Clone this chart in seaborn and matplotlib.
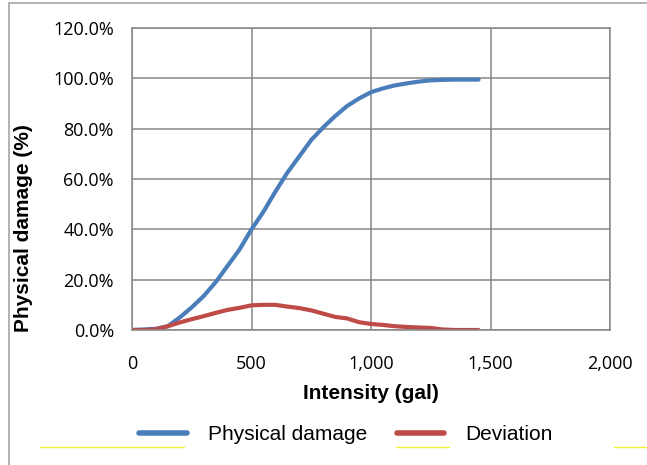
import matplotlib
matplotlib.use("Agg")
import matplotlib.pyplot as plt
from matplotlib.lines import Line2D
from matplotlib.ticker import FuncFormatter
import seaborn as sns
import pandas as pd

# ---- data ----
intensity = [0, 50, 100, 150, 200, 250, 300, 350, 400, 450, 500, 550, 600, 650, 700,
             750, 800, 850, 900, 950, 1000, 1050, 1100, 1150, 1200, 1250, 1300, 1350, 1400, 1450]
physical_damage = [0, 0.2, 0.5, 1.5, 5, 9, 13.5, 19, 25.5, 32, 40, 47, 55, 62.5, 69,
                   75.5, 80.5, 85, 89, 92, 94.5, 96, 97.2, 98, 98.7, 99.2, 99.4, 99.5, 99.5, 99.5]
deviation = [0, 0, 0.3, 1.5, 3, 4.3, 5.5, 6.8, 8, 8.8, 9.8, 10, 10, 9.3, 8.7,
             7.8, 6.5, 5.2, 4.6, 3.1, 2.4, 2.0, 1.5, 1.2, 1.0, 0.8, 0.2, 0, 0, 0]
series_names = ["Physical damage", "Deviation"]
colors = ["#4A7EBB", "#BE4B48"]
x_ticks = [0, 500, 1000, 1500, 2000]
y_ticks = [0, 20, 40, 60, 80, 100, 120]

df = pd.DataFrame({
    "Intensity": intensity * 2,
    "Value": physical_damage + deviation,
    "Series": [series_names[0]] * len(intensity) + [series_names[1]] * len(intensity),
})

sns.set_theme(style="white")
plt.rcParams["font.family"] = ["Liberation Sans", "DejaVu Sans"]
plt.rcParams["text.color"] = "black"
plt.rcParams["axes.labelcolor"] = "black"

W, H = 647, 465
fig = plt.figure(figsize=(W / 100, H / 100), dpi=100)
ax = fig.add_axes([132 / W, 1 - 330 / H, (610 - 132) / W, (330 - 28) / H])

sns.lineplot(data=df, x="Intensity", y="Value", hue="Series", hue_order=series_names,
             palette=colors, linewidth=3.0, ax=ax, legend=False, sort=False)

ax.set_xlim(0, 2000)
ax.set_ylim(0, 120)
ax.set_xticks(x_ticks)
ax.set_yticks(y_ticks)
ax.xaxis.set_major_formatter(FuncFormatter(lambda v, p: f"{int(v):,}"))
ax.yaxis.set_major_formatter(FuncFormatter(lambda v, p: f"{v:.1f}%"))
grid_c = "#868686"
ax.grid(True, color=grid_c, linewidth=1.1)
ax.set_axisbelow(True)
for s in ax.spines.values():
    s.set_color(grid_c)
    s.set_linewidth(1.1)
ax.tick_params(axis="both", length=0, labelsize=13, colors="black")
ax.tick_params(axis="y", pad=13)
ax.tick_params(axis="x", pad=18)
for lab in ax.get_xticklabels() + ax.get_yticklabels():
    lab.set_fontfamily(["Open Sans", "DejaVu Sans"])

ax.set_xlabel("Intensity (gal)", fontsize=15, fontweight="bold", labelpad=8, color="black")
ax.set_ylabel("Physical damage (%)", fontsize=15, fontweight="bold", labelpad=14, color="black")
ax.yaxis.set_label_coords(-(132 - 33) / (610 - 132), (330 - 228) / (330 - 28))

handles = [Line2D([], [], color=c, linewidth=4.0) for c in colors]
fig.legend(handles, series_names, loc="center", bbox_to_anchor=(346 / W, 1 - 435 / H),
           ncol=2, frameon=False, fontsize=15, handlelength=2.3, handletextpad=1.0,
           columnspacing=1.4, labelcolor="black")

# outer chart frame (partially visible) and faint artifacts
fig.add_artist(Line2D([8.5 / W, 8.5 / W], [0, 1 - 3 / H], color="#A6A6A6", linewidth=1.2))
fig.add_artist(Line2D([8.5 / W, 1], [1 - 3 / H, 1 - 3 / H], color="#A6A6A6", linewidth=1.2))
for x0, x1 in [(40, 184), (396, 449), (614, 647)]:
    fig.add_artist(Line2D([x0 / W, x1 / W], [1 - 447 / H, 1 - 447 / H], color="#F2F230", linewidth=1.0))

fig.savefig("out.png", dpi=100)
